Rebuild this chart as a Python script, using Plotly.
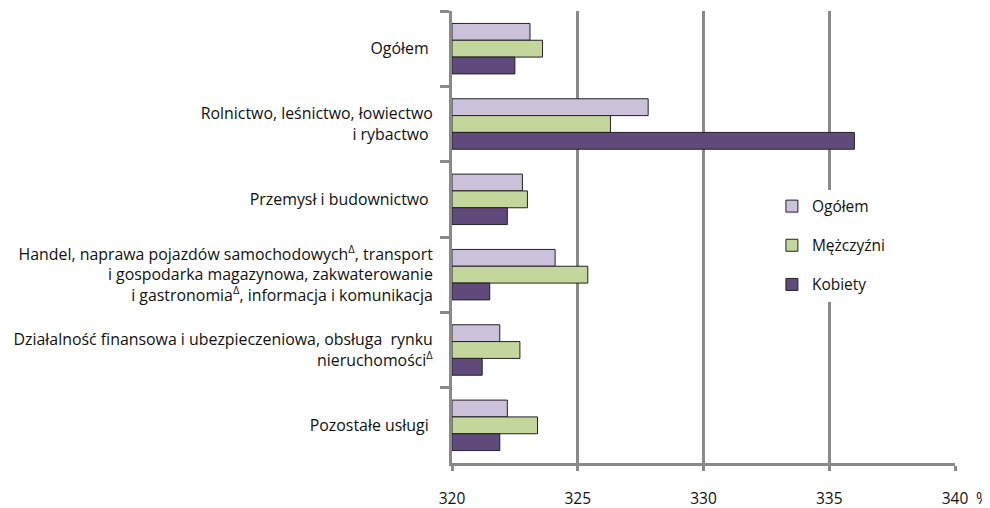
import plotly.graph_objects as go

categories = [
    "Ogółem ",
    "Rolnictwo, leśnictwo, łowiectwo<br>i rybactwo ",
    "Przemysł i budownictwo ",
    "Handel, naprawa pojazdów samochodowych<sup>Δ</sup>, transport<br>i gospodarka magazynowa, zakwaterowanie<br>i gastronomia<sup>Δ</sup>, informacja i komunikacja",
    "Działalność finansowa i ubezpieczeniowa, obsługa  rynku<br>nieruchomości<sup>Δ</sup>",
    "Pozostałe usługi ",
]
series_names = ["Ogółem", "Mężczyźni", "Kobiety"]
ogolem = [323.1, 327.8, 322.8, 324.1, 321.9, 322.2]
mezczyzni = [323.6, 326.3, 323.0, 325.4, 322.7, 323.4]
kobiety = [322.5, 336.0, 322.2, 321.5, 321.2, 321.9]
x_ticks = [320, 325, 330, 335, 340]

colors = ["#CCC1DA", "#C3D69B", "#604A7B"]
FONT = "Open Sans"
GRID = "#8A8A8A"

fig = go.Figure()
for name, vals, col in zip(series_names, [ogolem, mezczyzni, kobiety], colors):
    fig.add_trace(go.Bar(
        y=categories, x=[v - 320 for v in vals], base=320, name=name,
        orientation="h", marker=dict(color=col, line=dict(color="#222222", width=1)),
        legendgroup=name,
    ))

# page body has an 8px default margin: figure is 982x500, offset by (8, 8)
fig.update_layout(
    width=982, height=500,
    margin=dict(l=444, r=35, t=3, b=45),
    paper_bgcolor="white", plot_bgcolor="white",
    barmode="group", bargap=0.33, bargroupgap=0,
    font=dict(family=FONT, size=15, color="#111111"),
    showlegend=True,
    legend=dict(x=0.636, y=0.605, xanchor="left", yanchor="top",
                bgcolor="white", font=dict(size=15.5), tracegroupgap=16,
                itemwidth=30),
    xaxis=dict(range=[320, 340], tickvals=x_ticks, showgrid=True, gridcolor=GRID,
               gridwidth=3, showline=True, linecolor=GRID, linewidth=3,
               ticks="outside", ticklen=5, tickwidth=3, tickcolor=GRID,
               ticklabelstandoff=14, zeroline=False, automargin=False,
               tickfont=dict(size=15.5)),
    yaxis=dict(autorange="reversed", showline=True, linecolor=GRID, linewidth=3,
               ticks="outside", ticklen=9, tickwidth=3, tickcolor=GRID,
               tickson="boundaries", showgrid=False, ticklabelstandoff=13,
               automargin=False, tickfont=dict(size=15.9)),
)
fig.add_annotation(x=1.0, y=0, xref="paper", yref="paper", text="%",
                   showarrow=False, xanchor="left", yanchor="middle", xshift=19, yshift=-35,
                   font=dict(size=15.5))
fig.write_html("out.html")
